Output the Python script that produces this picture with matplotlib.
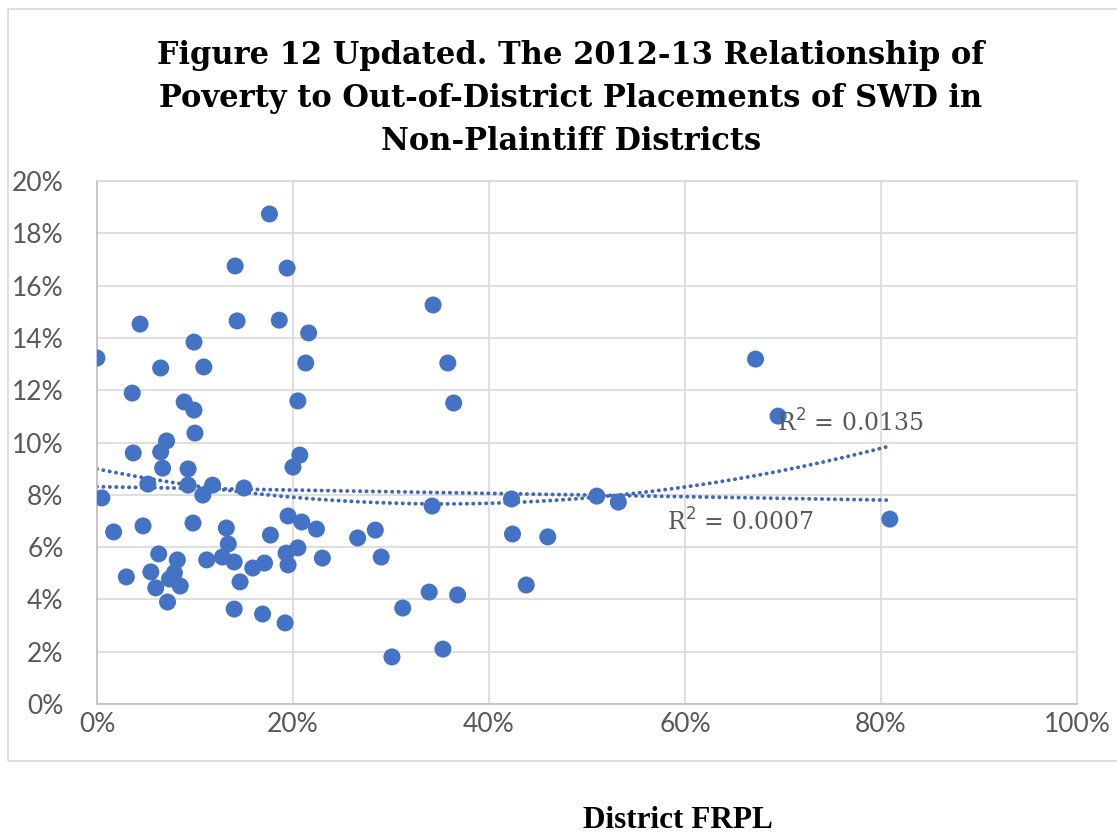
import matplotlib
matplotlib.use("Agg")
import matplotlib.pyplot as plt
from matplotlib.patches import Rectangle
from matplotlib.ticker import FuncFormatter, MultipleLocator
import numpy as np

# District FRPL share (%) and out-of-district placement rate of SWD (%)
frpl = [
    0.0, 0.5, 1.7, 3.0, 3.6, 3.7, 4.4, 4.7, 5.2, 5.5,
    6.0, 6.3, 6.5, 6.5, 6.7, 7.1, 7.2, 7.4, 8.2, 7.9,
    8.5, 8.9, 9.3, 9.3, 9.9, 9.9, 10.0, 9.8, 10.9, 10.8,
    11.2, 11.8, 12.8, 13.2, 13.4, 14.1, 14.3, 14.0, 14.0, 14.6,
    15.0, 15.9, 16.9, 17.1, 17.6, 17.7, 18.6, 19.4, 19.5, 19.3,
    19.5, 19.2, 20.0, 20.5, 20.7, 20.5, 20.9, 21.3, 21.6, 22.4,
    23.0, 26.6, 28.4, 29.0, 30.1, 31.2, 33.9, 34.3, 34.2, 35.8,
    35.3, 36.4, 36.8, 42.3, 42.4, 43.8, 46.0, 51.0, 53.2, 67.2,
    69.5, 80.9,
]
placements = [
    13.23, 7.88, 6.58, 4.86, 11.89, 9.60, 14.53, 6.81, 8.41, 5.05,
    4.44, 5.74, 12.85, 9.64, 9.02, 10.06, 3.90, 4.78, 5.51, 5.02,
    4.51, 11.55, 8.99, 8.37, 11.24, 13.84, 10.36, 6.92, 12.89, 7.99,
    5.51, 8.37, 5.62, 6.73, 6.12, 16.75, 14.65, 5.43, 3.63, 4.67,
    8.26, 5.20, 3.44, 5.39, 18.74, 6.46, 14.68, 16.67, 7.19, 5.77,
    5.32, 3.10, 9.06, 11.59, 9.52, 5.97, 6.96, 13.04, 14.19, 6.69,
    5.58, 6.35, 6.65, 5.62, 1.80, 3.67, 4.28, 15.26, 7.57, 13.04,
    2.10, 11.51, 4.17, 7.84, 6.50, 4.55, 6.39, 7.95, 7.72, 13.19,
    11.01, 7.07,
]

r2_linear = "R$^2$ = 0.0007"
r2_poly = "R$^2$ = 0.0135"

blue = "#4472C4"
trend_blue = "#3F69B5"
grid_gray = "#D9D9D9"
text_gray = "#595959"

x = np.array(frpl) / 100
y = np.array(placements) / 100

fig = plt.figure(figsize=(11.17, 8.35), dpi=100, facecolor="white")
ax = fig.add_axes([0.0868, 0.1569, 0.8774, 0.6263])

# outer chart frame
fig.patches.append(Rectangle((0.007, 0.089), 1.1, 0.9, transform=fig.transFigure,
                             fill=False, edgecolor=grid_gray, linewidth=1.2))

ax.scatter(x, y, s=150, color=blue, edgecolors="none", zorder=3)

# Excel-style trendlines: linear and 2nd order polynomial over the data range
xs = np.linspace(x.min(), x.max(), 200)
lin = np.polyfit(x, y, 1)
quad = np.polyfit(x, y, 2)
dots = (0, (0.05, 1.6))
ax.plot(xs, np.polyval(lin, xs), color=trend_blue, lw=2.8, linestyle=dots,
        dash_capstyle="round", zorder=2)
ax.plot(xs, np.polyval(quad, xs), color=trend_blue, lw=2.8, linestyle=dots,
        dash_capstyle="round", zorder=2)

ax.text(0.694, 0.1075, r2_poly, fontsize=17, color=text_gray,
        family="DejaVu Serif", va="center", ha="left", zorder=4)
ax.text(0.582, 0.0695, r2_linear, fontsize=17, color=text_gray,
        family="DejaVu Serif", va="center", ha="left", zorder=4)

ax.set_xlim(0, 1.0)
ax.set_ylim(0, 0.20)
ax.xaxis.set_major_locator(MultipleLocator(0.2))
ax.yaxis.set_major_locator(MultipleLocator(0.02))
pct = FuncFormatter(lambda v, _: f"{v * 100:.0f}%")
ax.xaxis.set_major_formatter(pct)
ax.yaxis.set_major_formatter(pct)

ax.grid(True, color=grid_gray, linewidth=1.2)
ax.set_axisbelow(True)
for side in ax.spines.values():
    side.set_color(grid_gray)
    side.set_linewidth(1.2)
ax.spines["left"].set_color("#BFBFBF")
ax.spines["bottom"].set_color("#BFBFBF")
ax.tick_params(length=0, labelsize=19, labelcolor=text_gray)
ax.tick_params(axis="y", pad=24)
ax.tick_params(axis="x", pad=6)
for lab in ax.get_xticklabels() + ax.get_yticklabels():
    lab.set_family("Lato")

fig.text(0.511, 0.882,
         "Figure 12 Updated. The 2012-13 Relationship of\n"
         "Poverty to Out-of-District Placements of SWD in\n"
         "Non-Plaintiff Districts",
         ha="center", va="center", fontsize=22, fontweight="bold",
         family="DejaVu Serif", linespacing=1.5)

fig.text(0.607, 0.017, "District FRPL", ha="center", va="center",
         fontsize=22.5, fontweight="bold", family="Liberation Serif")

fig.savefig("out.png", dpi=100, facecolor="white")
